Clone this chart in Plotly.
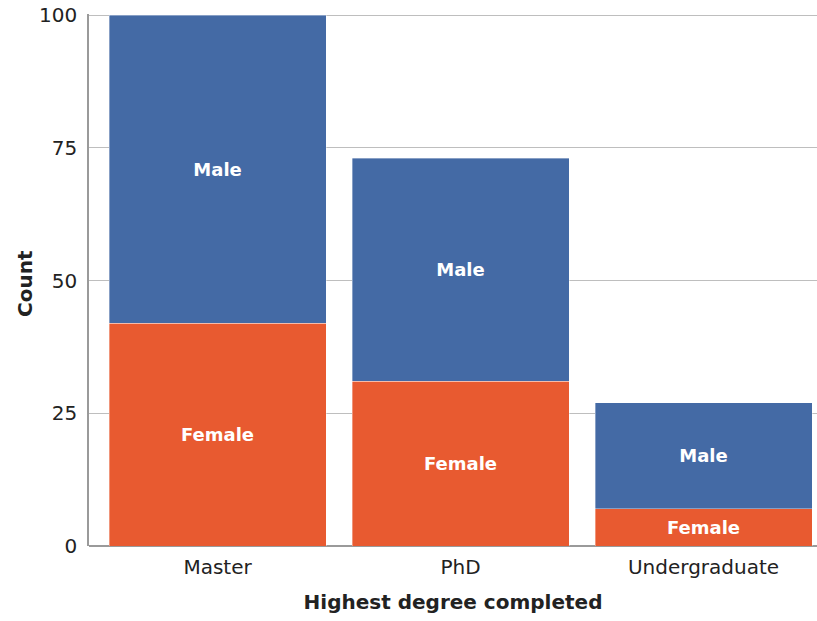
import plotly.graph_objects as go

categories = ["Master", "PhD", "Undergraduate"]
female = [42, 31, 7]
male = [58, 42, 20]
y_ticks = [0, 25, 50, 75, 100]

blue = "#446AA5"
orange = "#E85A30"
font_family = "'DejaVu Sans', sans-serif"

fig = go.Figure()
fig.add_trace(go.Bar(
    x=categories, y=female, name="Female",
    marker=dict(color=orange, line=dict(width=0.6, color="rgba(255,255,255,0.6)")),
    text=["Female"] * len(categories), textposition="inside",
    insidetextanchor="middle", constraintext="none",
    textfont=dict(color="white", size=18, family=font_family, weight="bold"),
    hoverinfo="skip",
))
fig.add_trace(go.Bar(
    x=categories, y=male, name="Male",
    marker=dict(color=blue, line=dict(width=0.6, color="rgba(255,255,255,0.6)")),
    text=["Male"] * len(categories), textposition="inside",
    insidetextanchor="middle", constraintext="none",
    textfont=dict(color="white", size=18, family=font_family, weight="bold"),
    hoverinfo="skip",
))

fig.update_layout(
    barmode="stack",
    bargap=0.107,
    width=817, height=621,
    margin=dict(l=89, r=0, t=14, b=75),
    paper_bgcolor="white", plot_bgcolor="white",
    showlegend=False,
    font=dict(family=font_family, color="#222222"),
)
fig.update_xaxes(
    range=[-0.529, 2.467], automargin=False,
    showgrid=False, showline=False, ticks="",
    ticklabelstandoff=7, ticklabeloverflow="allow",
    tickfont=dict(size=20, color="#222222"),
    title=dict(text="Highest degree completed", standoff=16,
               font=dict(size=20, weight="bold", color="#222222")),
)
fig.update_yaxes(
    range=[0, 100.2], tickvals=y_ticks, automargin=False,
    showgrid=True, gridcolor="#BEBEBE", gridwidth=1.3,
    showline=True, linecolor="#9A9A9A", linewidth=1.5,
    zeroline=True, zerolinecolor="#9A9A9A", zerolinewidth=1.5,
    ticks="", ticklabelstandoff=6, ticklabeloverflow="allow",
    tickfont=dict(size=20, color="#222222"),
)
# y-axis title placed as an annotation for exact positioning
fig.add_annotation(
    text="Count", textangle=-90, showarrow=False,
    xref="paper", yref="paper", x=0, y=0.5,
    xanchor="center", yanchor="middle", xshift=-64, yshift=-4,
    font=dict(size=20, weight="bold", color="#222222", family=font_family),
)

# remove the page's default 8px body margin so the figure fills the window
fig.write_html(
    "out.html",
    config={"displayModeBar": False},
    post_script="document.body.style.margin='0';document.body.style.overflow='hidden';",
)
